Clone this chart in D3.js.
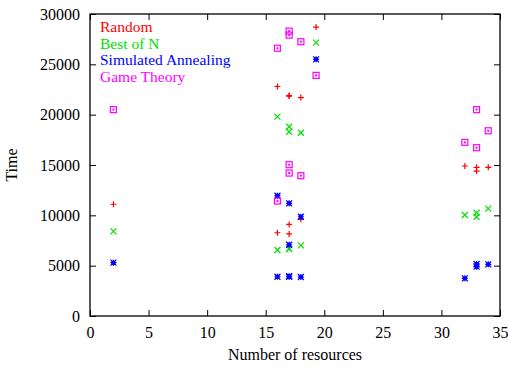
<!DOCTYPE html>
<html>
<head>
<meta charset="utf-8">
<script src="https://cdn.jsdelivr.net/npm/d3@7"></script>
<style>
  body { margin: 0; background: #fff; }
</style>
</head>
<body>
<div id="chart"></div>
<script>
// resources (x) per point, shared by all series
const resources = [2, 16, 16, 17, 17, 17, 17, 18, 18, 19.3, 32, 33, 33, 34];

const randomTimes    = [11100, 22800, 8270, 21900, 21850, 9100, 8150, 21700, 9600, 28700, 14900, 14770, 14400, 14770];
const bestOfNTimes   = [8400, 19800, 6560, 18800, 18300, 6650, 6700, 18200, 7020, 27150, 10030, 10260, 9860, 10660];
const annealingTimes = [5300, 11950, 3900, 11190, 7080, 3900, 3950, 9860, 3870, 25500, 3740, 5165, 4900, 5130];
const gameTimes      = [20500, 26600, 11420, 28300, 27900, 15030, 14200, 27250, 13940, 23900, 17250, 20500, 16720, 18400];

const seriesNames = ["Random", "Best of N", "Simulated Annealing", "Game Theory"];
const xTicks = [0, 5, 10, 15, 20, 25, 30, 35];
const yTicks = [0, 5000, 10000, 15000, 20000, 25000, 30000];

const serif = "'Liberation Serif', 'Times New Roman', serif";

const margin = {top: 14, right: 8, bottom: 50, left: 90};
const width = 508 - margin.left - margin.right;
const height = 366 - margin.top - margin.bottom;

const svg = d3.select("#chart").append("svg")
    .attr("width", 508)
    .attr("height", 366);

const g = svg.append("g")
    .attr("transform", "translate(" + margin.left + "," + margin.top + ")");

const x = d3.scaleLinear().domain([0, 35]).range([0, width]);
const y = d3.scaleLinear().domain([0, 30000]).range([height, 0]);
const color = d3.scaleOrdinal().domain(seriesNames).range(["#ff0000", "#00e000", "#0000ff", "#ff00ff"]);

// frame
g.append("rect")
    .attr("width", width).attr("height", height)
    .attr("fill", "none").attr("stroke", "#000").attr("stroke-width", 1.3);

// axes with inward ticks, mirrored on top/right
g.append("g").attr("transform", "translate(0," + height + ")")
    .call(d3.axisBottom(x).tickValues(xTicks).tickSize(-6).tickPadding(11).tickFormat(d3.format("d")));
g.append("g")
    .call(d3.axisTop(x).tickValues(xTicks).tickSize(-6).tickFormat(""));
g.append("g")
    .call(d3.axisLeft(y).tickValues(yTicks).tickSize(-6).tickPadding(10).tickFormat(d3.format("d")));
g.append("g").attr("transform", "translate(" + width + ",0)")
    .call(d3.axisRight(y).tickValues(yTicks).tickSize(-6).tickFormat(""));

g.selectAll(".domain").remove();
g.selectAll(".tick line").attr("stroke", "#000");
g.selectAll(".tick text").attr("fill", "#000")
    .style("font-family", serif).style("font-size", "16px");

// axis titles
svg.append("text")
    .attr("x", margin.left + width / 2).attr("y", 360)
    .attr("text-anchor", "middle")
    .style("font-family", serif).style("font-size", "16px")
    .text("Number of resources");
svg.append("text")
    .attr("transform", "translate(17," + (margin.top + height / 2) + ") rotate(-90)")
    .attr("text-anchor", "middle")
    .style("font-family", serif).style("font-size", "16px")
    .text("Time");

// point symbols, gnuplot-like
function drawPoint(sel, type, c) {
  const s = 3;
  if (type === 0) {
    sel.append("path").attr("d", `M${-s},0H${s}M0,${-s}V${s}`).attr("stroke", c).attr("stroke-width", 1.2);
  } else if (type === 1) {
    sel.append("path").attr("d", `M${-s},${-s}L${s},${s}M${-s},${s}L${s},${-s}`).attr("stroke", c).attr("stroke-width", 1.2);
  } else if (type === 2) {
    sel.append("path").attr("d", `M${-s},0H${s}M0,${-s}V${s}M${-s},${-s}L${s},${s}M${-s},${s}L${s},${-s}`).attr("stroke", c).attr("stroke-width", 1.2);
    sel.append("rect").attr("x", -2).attr("y", -2).attr("width", 4).attr("height", 4).attr("fill", c);
  } else {
    sel.append("rect").attr("x", -s).attr("y", -s).attr("width", 2 * s).attr("height", 2 * s)
        .attr("fill", "none").attr("stroke", c).attr("stroke-width", 1.2);
    sel.append("rect").attr("x", -1).attr("y", -1).attr("width", 2).attr("height", 2).attr("fill", c);
  }
}

const allSeries = [randomTimes, bestOfNTimes, annealingTimes, gameTimes];
allSeries.forEach(function(vals, i) {
  const data = vals.map(function(v, j) { return {r: resources[j], t: v}; });
  g.selectAll(".pt" + i)
    .data(data)
    .enter().append("g")
      .attr("class", "pt" + i)
      .attr("transform", function(d) { return "translate(" + x(d.r) + "," + y(d.t) + ")"; })
      .each(function() { drawPoint(d3.select(this), i, color(seriesNames[i])); });
});

// legend, top-left inside the frame
const legend = g.append("g").attr("transform", "translate(10,0)");
seriesNames.forEach(function(name, i) {
  legend.append("text")
      .attr("x", 0).attr("y", 18 + i * 16.7)
      .style("font-family", serif).style("font-size", "15.5px")
      .attr("fill", color(name))
      .text(name);
});
</script>
</body>
</html>
